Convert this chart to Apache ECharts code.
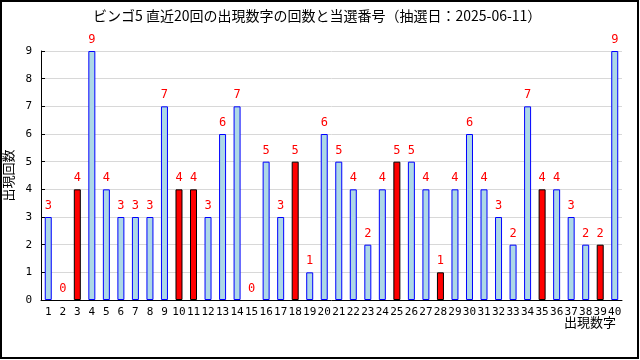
<!DOCTYPE html>
<html>
<head>
<meta charset="utf-8">
<script src="https://cdn.jsdelivr.net/npm/echarts@6/dist/echarts.min.js"></script>
<style>html,body{margin:0;padding:0;background:#fff;}#c{width:640px;height:360px;}</style>
</head>
<body>
<div id="c"></div>
<script>
const categories = ['1','2','3','4','5','6','7','8','9','10','11','12','13','14','15','16','17','18','19','20','21','22','23','24','25','26','27','28','29','30','31','32','33','34','35','36','37','38','39','40'];
const counts = [3,0,4,9,4,3,3,3,7,4,4,3,6,7,0,5,3,5,1,6,5,4,2,4,5,5,4,1,4,6,4,3,2,7,4,4,3,2,2,9];
const winning = [3,10,11,18,25,28,35,39];
const yTicks = [0,1,2,3,4,5,6,7,8,9];

const fontMono = 'DejaVu Sans Mono, Noto Sans CJK JP, monospace';
const data = counts.map((v, i) => {
  const win = winning.includes(Number(categories[i]));
  const bw = v === 0 ? 0 : 1;
  return {
    value: v,
    itemStyle: win ? {color: '#ff0000', borderColor: '#000000', borderWidth: bw}
                   : {color: '#add8e6', borderColor: '#0000ff', borderWidth: bw}
  };
});

const chart = echarts.init(document.getElementById('c'), null, {renderer: 'canvas'});
chart.setOption({
  animation: false,
  backgroundColor: '#ffffff',
  title: {
    text: 'ビンゴ5 直近20回の出現数字の回数と当選番号（抽選日：2025-06-11）',
    left: 88, top: 4,
    textStyle: {fontSize: 14, fontWeight: 'normal', color: '#000', fontFamily: 'Noto Sans CJK JP'}
  },
  grid: {left: 41, right: 18, top: 51, bottom: 60, containLabel: false, outerBoundsMode: 'none'},
  xAxis: {
    type: 'category',
    data: categories,
    boundaryGap: true,
    axisLine: {lineStyle: {color: '#000', width: 1}},
    axisTick: {inside: true, length: 4, lineStyle: {color: '#000'}},
    axisLabel: {interval: 0, color: '#000', fontSize: 11, margin: 7, fontFamily: fontMono}
  },
  yAxis: {
    type: 'value',
    min: yTicks[0], max: yTicks[yTicks.length - 1], interval: 1,
    name: '出現回数',
    nameLocation: 'middle',
    nameRotate: 90,
    nameGap: 25,
    nameTextStyle: {fontSize: 13, color: '#000', fontFamily: 'Noto Sans CJK JP'},
    axisLine: {show: true, lineStyle: {color: '#000', width: 1}},
    axisTick: {show: true, inside: true, length: 4, lineStyle: {color: '#000'}},
    axisLabel: {color: '#000', fontSize: 11, margin: 9, fontFamily: fontMono},
    splitLine: {show: true, lineStyle: {color: '#d8d8d8', width: 1}}
  },
  series: [{
    type: 'bar',
    data: data,
    barWidth: 7,
    label: {show: true, position: 'top', color: '#ff0000', fontSize: 12, distance: 5, fontFamily: fontMono}
  }],
  graphic: [
    {type: 'text', right: 24, top: 316, style: {text: '出現数字', fontSize: 13, fill: '#000', fontFamily: 'Noto Sans CJK JP'}},
    {type: 'rect', shape: {x: 1, y: 1, width: 637, height: 357}, style: {fill: 'none', stroke: '#000', lineWidth: 2}, silent: true}
  ]
});
</script>
</body>
</html>
